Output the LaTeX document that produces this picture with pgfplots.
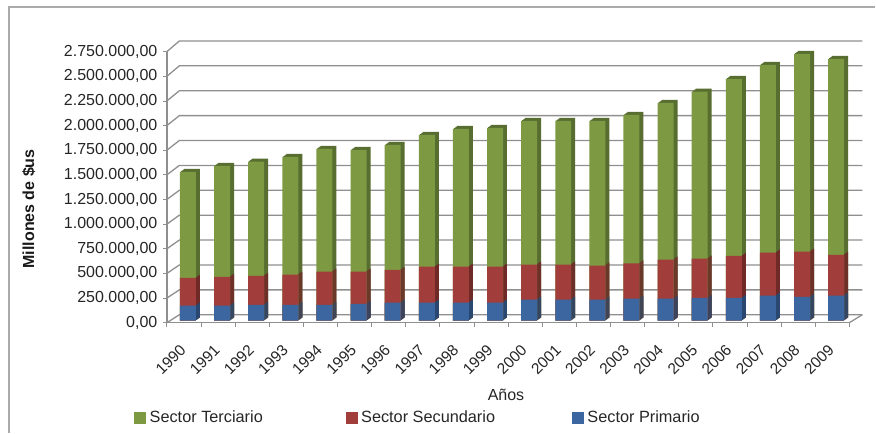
\documentclass[border=0pt]{standalone}
\usepackage{pgfplots}
\usepackage{pgfplotstable}
\usepackage{fontspec}
\setmainfont{Liberation Sans}
\pgfplotsset{compat=1.18}
\definecolor{cTer}{HTML}{7D9A42}
\definecolor{cSec}{HTML}{A13D3A}
\definecolor{cPri}{HTML}{3B66A0}
\definecolor{dTer}{HTML}{586D30}
\definecolor{dSec}{HTML}{6F2A28}
\definecolor{dPri}{HTML}{2A4770}
\definecolor{gridc}{HTML}{8F8F8F}
\definecolor{framec}{HTML}{ABABAB}
\pgfplotstableread{
x anio pri sec ter
0 1990 152000 284000 1075000
1 1991 152000 294000 1126000
2 1992 162000 294000 1157000
3 1993 162000 305000 1196000
4 1994 162000 335000 1247000
5 1995 172000 325000 1237000
6 1996 183000 334000 1268000
7 1997 183000 365000 1338000
8 1998 183000 365000 1399000
9 1999 183000 365000 1409000
10 2000 213000 355000 1460000
11 2001 213000 355000 1460000
12 2002 213000 345000 1470000
13 2003 223000 360000 1506000
14 2004 223000 396000 1592000
15 2005 233000 396000 1694000
16 2006 233000 426000 1795000
17 2007 254000 436000 1906000
18 2008 243000 457000 2008000
19 2009 254000 415000 1988000
}\datos
\newcommand\gridl[2]{\addplot[forget plot,no marks,sharp plot,gridc,line width=1.3pt] coordinates {(-0.5,#1) (-0.134,#2) (19.88,#2)};}
\newcommand\capa[5]{%
\addplot[forget plot,ybar,bar width=16pt,bar shift=4pt,draw=none,fill=#3,xshift=#1,yshift=#2] table[x=x,y expr=\thisrow{pri}+\thisrow{sec}+\thisrow{ter}] {\datos};
\addplot[forget plot,ybar,bar width=16pt,bar shift=4pt,draw=none,fill=#4,xshift=#1,yshift=#2] table[x=x,y expr=\thisrow{pri}+\thisrow{sec}] {\datos};
\addplot[forget plot,ybar,bar width=16pt,bar shift=4pt,draw=none,fill=#5,xshift=#1,yshift=#2] table[x=x,y=pri] {\datos};
}
\begin{document}
\begin{tikzpicture}[x=1pt,y=1pt]
\path (0,0) rectangle (876,433);
\draw[framec,line width=1.5pt] (9,0) -- (9,426) -- (876,426);
\begin{axis}[
  at={(167pt,110pt)},anchor=south west,
  scale only axis,width=683pt,height=271.3pt,
  xmin=-0.5,xmax=19.5,ymin=0,ymax=2750000,
  clip=false,
  axis lines=left,
  axis line style={-,gridc,line width=1.4pt},
  tick align=outside,
  xtick={0,...,19},
  xticklabels={1990,1991,1992,1993,1994,1995,1996,1997,1998,1999,2000,2001,2002,2003,2004,2005,2006,2007,2008,2009},
  major x tick style={draw=none},
  minor xtick={-0.5,0.5,1.5,2.5,3.5,4.5,5.5,6.5,7.5,8.5,9.5,10.5,11.5,12.5,13.5,14.5,15.5,16.5,17.5,18.5,19.5},
  minor tick length=4pt,
  minor x tick style={gridc,line width=0.8pt},
  major y tick style={gridc,line width=0.8pt},
  major tick length=4pt,
  ytick={0,250000,500000,750000,1000000,1250000,1500000,1750000,2000000,2250000,2500000,2750000},
  scaled y ticks=false,
  /pgf/number format/fixed,
  /pgf/number format/fixed zerofill,
  /pgf/number format/precision=2,
  /pgf/number format/1000 sep={.},
  /pgf/number format/dec sep={,},
  /pgf/number format/assume math mode=true,
  yticklabel style={font=\fontsize{16}{16}\selectfont,text=black!85,xshift=-2pt},
  xticklabel style={font=\fontsize{15.5}{16}\selectfont,text=black!85,rotate=45,anchor=east,xshift=-12pt,yshift=-14pt},
  xlabel={Años},
  xlabel style={font=\fontsize{16}{16}\selectfont,text=black!85,at={(axis description cs:0.497,-0.267)},anchor=center},
  ylabel={\bfseries Millones de \$us},
  ylabel style={font=\fontsize{16}{16}\selectfont,text=black!90,at={(axis description cs:-0.2025,0.42)},anchor=center},
  legend columns=3,
  legend cell align=left,
  legend style={draw=none,fill=none,inner sep=0pt,font=\fontsize{16.3}{16}\selectfont,text=black!85,
    at={(axis description cs:-0.048,-0.35)},anchor=west,
    /tikz/every odd column/.append style={column sep=2pt},
    /tikz/column 2/.style={column sep=81pt},
    /tikz/column 4/.style={column sep=75pt}},
  legend entries={Sector Terciario,Sector Secundario,Sector Primario},
]
\addlegendimage{legend image code/.code={\fill[cTer] (0pt,-5.5pt) rectangle (11pt,5.5pt);}}
\addlegendimage{legend image code/.code={\fill[cSec] (0pt,-5.5pt) rectangle (11pt,5.5pt);}}
\addlegendimage{legend image code/.code={\fill[cPri] (0pt,-5.5pt) rectangle (11pt,5.5pt);}}
\gridl{0}{81000}
\gridl{250000}{333500}
\gridl{500000}{586000}
\gridl{750000}{838500}
\gridl{1000000}{1091000}
\gridl{1250000}{1343500}
\gridl{1500000}{1596000}
\gridl{1750000}{1848500}
\gridl{2000000}{2101000}
\gridl{2250000}{2353500}
\gridl{2500000}{2606000}
\gridl{2750000}{2858500}
\addplot[forget plot,no marks,sharp plot,gridc,line width=1.3pt] coordinates {(19.5,0) (19.88,81000)};
\capa{4pt}{5pt}{dTer}{dSec}{dPri}
\capa{3pt}{4.25pt}{dTer}{dSec}{dPri}
\capa{2pt}{3.5pt}{dTer}{dSec}{dPri}
\capa{1pt}{2.75pt}{dTer}{dSec}{dPri}
\capa{0pt}{2pt}{cTer}{cSec}{cPri}
\end{axis}
\end{tikzpicture}
\end{document}
